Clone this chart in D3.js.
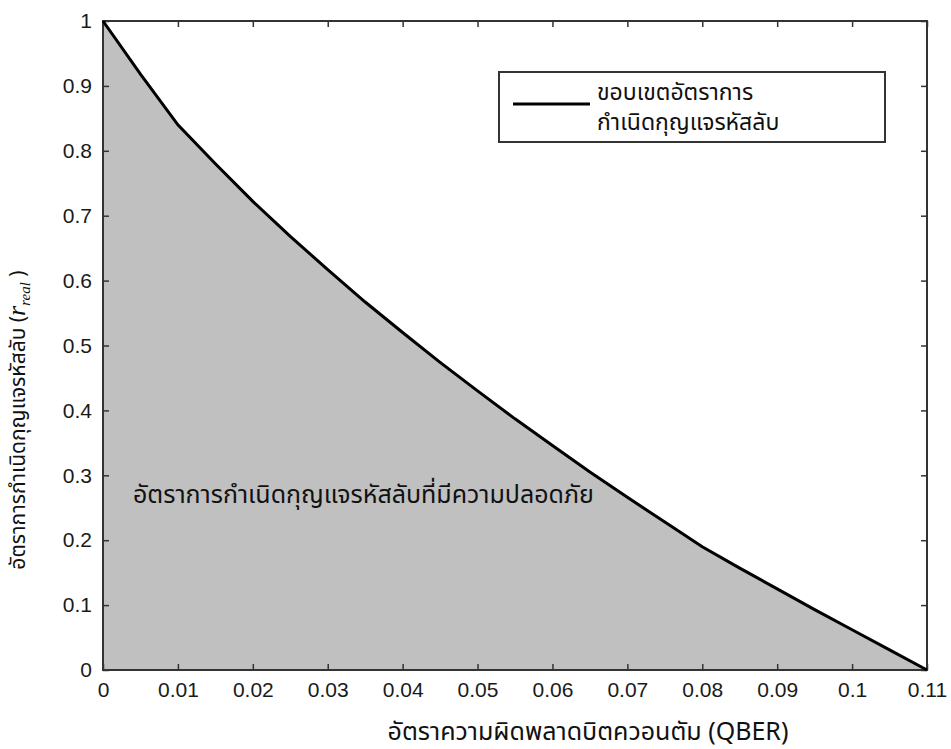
<!DOCTYPE html>
<html>
<head>
<meta charset="utf-8">
<script src="https://cdnjs.cloudflare.com/ajax/libs/d3/7.8.5/d3.min.js"></script>
<style>
  body { margin: 0; background: #fff; }
  .tick text { font-family: "Liberation Sans", Arial, sans-serif; font-size: 21px; fill: #1a1a1a; }
  .thai { font-family: "Noto Sans", "Noto Sans Thai", sans-serif; font-size: 25px; fill: #111; }
</style>
</head>
<body>
<div id="chart"></div>
<script>
// QBER values and the matching key-rate bound
var qber = [0, 0.005, 0.01, 0.015, 0.02, 0.025, 0.03, 0.035, 0.04, 0.045, 0.05, 0.055,
            0.06, 0.065, 0.07, 0.075, 0.08, 0.085, 0.09, 0.095, 0.1, 0.105, 0.11];
var rate = [1.0, 0.918, 0.84, 0.78, 0.722, 0.668, 0.617, 0.567, 0.52, 0.474, 0.43, 0.387,
            0.346, 0.305, 0.266, 0.228, 0.19, 0.157, 0.125, 0.093, 0.062, 0.031, 0];
var xTicks = [0, 0.01, 0.02, 0.03, 0.04, 0.05, 0.06, 0.07, 0.08, 0.09, 0.1, 0.11];
var yTicks = [0, 0.1, 0.2, 0.3, 0.4, 0.5, 0.6, 0.7, 0.8, 0.9, 1];

var width = 951;
var height = 749;
var plotL = 103, plotR = 927, plotT = 21, plotB = 670;

var data = qber.map(function(q, i) { return { q: q, r: rate[i] }; });

var svg = d3.select('#chart').append('svg')
  .attr('width', width)
  .attr('height', height);

var xScale = d3.scaleLinear().domain([0, 0.11]).range([plotL, plotR]);
var yScale = d3.scaleLinear().domain([0, 1]).range([plotB, plotT]);

// shaded region under the bound
var area = d3.area()
  .x(function(d) { return xScale(d.q); })
  .y0(yScale(0))
  .y1(function(d) { return yScale(d.r); });

svg.append('path')
  .datum(data)
  .attr('d', area)
  .style('fill', '#c0c0c0');

// axes, ticks inward on all four sides
var fmt = function(d) { return String(+d.toFixed(2)); };

var xAxis = d3.axisBottom(xScale).tickValues(xTicks).tickSize(-6).tickPadding(12).tickFormat(fmt);
var yAxis = d3.axisLeft(yScale).tickValues(yTicks).tickSize(-6).tickPadding(11).tickFormat(fmt);
var xTop = d3.axisTop(xScale).tickValues(xTicks).tickSize(-6).tickFormat('');
var yRight = d3.axisRight(yScale).tickValues(yTicks).tickSize(-6).tickFormat('');

function styleAxis(g) {
  g.selectAll('.domain').remove();
  g.selectAll('.tick line').style('stroke', '#333').style('stroke-width', 1.5);
}

svg.append('g').attr('transform', 'translate(0,' + plotB + ')').call(xAxis).call(styleAxis);
svg.append('g').attr('transform', 'translate(' + plotL + ',0)').call(yAxis).call(styleAxis);
svg.append('g').attr('transform', 'translate(0,' + plotT + ')').call(xTop).call(styleAxis);
svg.append('g').attr('transform', 'translate(' + plotR + ',0)').call(yRight).call(styleAxis);

svg.selectAll('g').attr('font-family', null).attr('font-size', null);

svg.append('rect')
  .attr('x', plotL)
  .attr('y', plotT)
  .attr('width', plotR - plotL)
  .attr('height', plotB - plotT)
  .style('fill', 'none')
  .style('stroke', '#333')
  .style('stroke-width', 2);

// bound line
var line = d3.line()
  .x(function(d) { return xScale(d.q); })
  .y(function(d) { return yScale(d.r); });

svg.append('path')
  .datum(data)
  .attr('d', line)
  .style('fill', 'none')
  .style('stroke', '#000')
  .style('stroke-width', 3);

// label inside the shaded area
svg.append('text')
  .attr('class', 'thai')
  .attr('x', 133)
  .attr('y', 503)
  .text('อัตราการกำเนิดกุญแจรหัสลับที่มีความปลอดภัย');

// legend
svg.append('rect')
  .attr('x', 499)
  .attr('y', 72)
  .attr('width', 386)
  .attr('height', 70)
  .style('fill', '#fff')
  .style('stroke', '#333')
  .style('stroke-width', 2);

svg.append('line')
  .attr('x1', 513).attr('x2', 590)
  .attr('y1', 104).attr('y2', 104)
  .style('stroke', '#000')
  .style('stroke-width', 3);

svg.append('text').attr('class', 'thai').style('font-size', '23px')
  .attr('x', 597).attr('y', 100).text('ขอบเขตอัตราการ');
svg.append('text').attr('class', 'thai').style('font-size', '23px')
  .attr('x', 597).attr('y', 130).text('กำเนิดกุญแจรหัสลับ');

// x label
svg.append('text')
  .attr('class', 'thai')
  .attr('x', 588)
  .attr('y', 740)
  .attr('text-anchor', 'middle')
  .text('อัตราความผิดพลาดบิตควอนตัม (QBER)');

// y label
var yLab = svg.append('text')
  .attr('class', 'thai')
  .style('font-size', '21px')
  .attr('transform', 'translate(25,420) rotate(-90)')
  .attr('text-anchor', 'middle');
yLab.append('tspan').text('อัตราการกำเนิดกุญแจรหัสลับ   (');
yLab.append('tspan')
  .style('font-family', '"Liberation Serif", "Times New Roman", serif')
  .style('font-style', 'italic')
  .style('font-size', '26px')
  .text('r');
yLab.append('tspan')
  .attr('dy', 5)
  .style('font-family', '"Liberation Serif", "Times New Roman", serif')
  .style('font-style', 'italic')
  .style('font-size', '15px')
  .text('real');
yLab.append('tspan').attr('dy', -5).text('  )');
</script>
</body>
</html>
